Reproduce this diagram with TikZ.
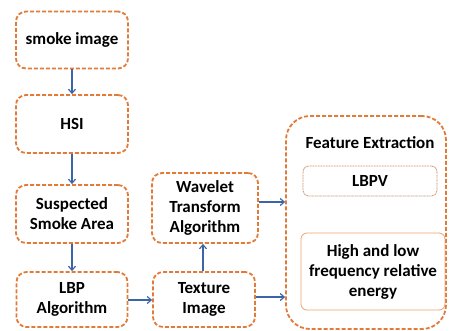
\documentclass[tikz,border=0pt]{standalone}
\usepackage{fontspec}
\setmainfont{Carlito}
\usetikzlibrary{arrows.meta}
\definecolor{boxorange}{HTML}{E07B39}
\definecolor{arrowblue}{HTML}{3E64A8}
\definecolor{subedge}{HTML}{C8906A}
\tikzset{
  stepbox/.style={draw=boxorange, line width=1.8pt, dash pattern=on 4pt off 2pt,
    rounded corners=10pt, fill=white, align=center,
    font=\fontsize{17}{20}\selectfont\bfseries, inner sep=2pt},
  subbox/.style={draw=subedge, line width=0.8pt, rounded corners=6pt, align=center,
    font=\fontsize{17}{20}\selectfont\bfseries, inner sep=2pt},
  flow/.style={draw=arrowblue, line width=1.2pt, -{Straight Barb[length=4pt,width=7pt]}}
}
\begin{document}
\begin{tikzpicture}[x=1pt,y=-1pt]
  \useasboundingbox (0,0) rectangle (449,331);

  % left column of processing steps
  \node[stepbox, minimum width=112pt, minimum height=57pt] (img) at (72,40) {smoke image};
  \node[stepbox, minimum width=112pt, minimum height=58pt] (hsi) at (72,124) {HSI};
  \node[stepbox, minimum width=112pt, minimum height=58pt] (area) at (72,214) {Suspected\\Smoke Area};
  \node[stepbox, minimum width=111pt, minimum height=55pt] (lbp) at (72,299.5) {LBP\\Algorithm};

  % middle column
  \node[stepbox, minimum width=102pt, minimum height=55pt] (tex) at (204,299.5) {Texture\\Image};
  \node[stepbox, minimum width=106pt, minimum height=70pt] (wav) at (205,208) {Wavelet\\Transform\\Algorithm};

  % feature extraction group
  \node[stepbox, rounded corners=24pt, minimum width=160pt, minimum height=213pt] (feat) at (366,222.5) {};
  \node[font=\fontsize{17}{20}\selectfont\bfseries] (ftitle) at (370,143) {Feature Extraction};
  \node[subbox, dash pattern=on 1pt off 0.6pt, minimum width=134pt, minimum height=30pt] (lbpv) at (370,181) {LBPV};
  \node[subbox, draw=boxorange!70, minimum width=144pt, minimum height=77pt] (hl) at (373,271.5) {High and low\\frequency relative\\energy};

  % connectors
  \draw[flow] (img) -- (hsi);
  \draw[flow] (hsi) -- (area);
  \draw[flow] (area) -- (lbp);
  \draw[flow] (lbp.east |- 0,300) -- (tex.west |- 0,300);
  \draw[flow] (tex.north -| 203,0) -- (wav.south -| 203,0);
  \draw[flow] (wav.east |- 0,202) -- (feat.west |- 0,202);
  \draw[flow] (tex.east |- 0,297) -- (feat.west |- 0,297);
\end{tikzpicture}
\end{document}
